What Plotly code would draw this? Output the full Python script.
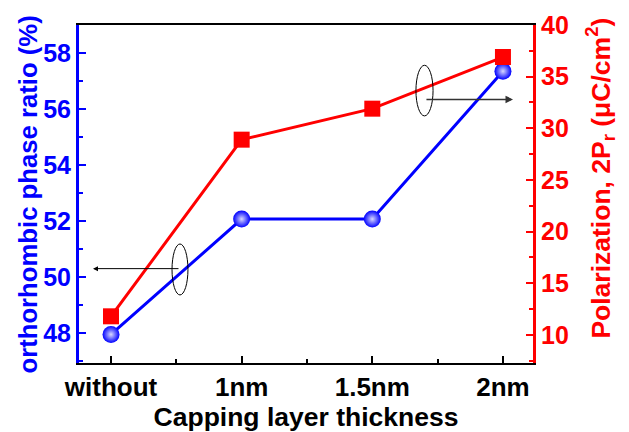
import plotly.graph_objects as go

# Capping layer thickness vs. orthorhombic phase ratio and remanent polarization
categories = ["without", "1nm", "1.5nm", "2nm"]
ortho_ratio = [47.95, 52.07, 52.07, 57.35]      # %
polarization = [11.8, 28.9, 31.9, 36.9]         # 2Pr, uC/cm^2

x_idx = list(range(len(categories)))

FONT = "Liberation Sans, Arial, sans-serif"
BLUE = "#0000FF"
RED = "#FF0000"

fig = go.Figure()

fig.add_trace(go.Scatter(
    x=x_idx, y=ortho_ratio, mode="lines+markers",
    line=dict(color=BLUE, width=3),
    marker=dict(symbol="circle", size=17, color=BLUE,
                gradient=dict(type="radial", color="#D8D8FF"),
                line=dict(width=0)),
    yaxis="y", showlegend=False,
))

fig.add_trace(go.Scatter(
    x=x_idx, y=polarization, mode="lines+markers",
    line=dict(color=RED, width=3),
    marker=dict(symbol="square", size=16, color=RED, line=dict(width=0)),
    yaxis="y2", showlegend=False,
))

# Ellipses marking which curve belongs to which axis
fig.add_shape(type="circle", xref="x", yref="y",
              x0=0.467, x1=0.589, y0=49.36, y1=51.18,
              line=dict(color="black", width=1))
fig.add_shape(type="circle", xref="x", yref="y2",
              x0=2.334, x1=2.465, y0=31.2, y1=36.1,
              line=dict(color="black", width=1))

# Arrows pointing to the corresponding axes
fig.add_annotation(x=-0.138, y=50.3, ax=0.528, ay=50.3, xref="x", yref="y",
                   axref="x", ayref="y", text="", showarrow=True,
                   arrowhead=2, arrowsize=1, arrowwidth=1, arrowcolor="black")
fig.add_annotation(x=3.077, y=32.8, ax=2.403, ay=32.8, xref="x", yref="y2",
                   axref="x", ayref="y2", text="", showarrow=True,
                   arrowhead=2, arrowsize=1, arrowwidth=1.5, arrowcolor="#333333")

# Vertical axis titles
fig.add_annotation(text="<b>orthorhombic phase ratio (%)</b>",
                   xref="paper", yref="paper", x=-0.1134, y=0.497,
                   xanchor="center", yanchor="middle", textangle=-90,
                   showarrow=False,
                   font=dict(family=FONT, size=25.7, color=BLUE))
fig.add_annotation(text="<b>Polarization, 2P<sub>r</sub> (μC/cm<sup>2</sup>)</b>",
                   xref="paper", yref="paper", x=1.1487, y=0.547,
                   xanchor="center", yanchor="middle", textangle=-90,
                   showarrow=False,
                   font=dict(family=FONT, size=26.5, color=RED))

fig.update_layout(
    width=629, height=432,
    margin=dict(l=79, r=96, t=25, b=69, autoexpand=False),
    paper_bgcolor="white", plot_bgcolor="white",
    font=dict(family=FONT, size=24, color="black"),
    xaxis=dict(
        range=[-0.245, 3.23], automargin=False,
        tickvals=x_idx, ticktext=[f"<b>{c}</b>" for c in categories],
        ticks="inside", ticklen=7, tickwidth=2, tickcolor="black",
        minor=dict(dtick=0.5, tick0=0, ticks="inside", ticklen=4,
                   tickwidth=2, tickcolor="black"),
        showline=True, linecolor="black", linewidth=2, mirror=True,
        showgrid=False, zeroline=False,
        tickfont=dict(family=FONT, size=26, color="black"),
        title=dict(text="<b>Capping layer thickness</b>",
                   font=dict(family=FONT, size=26.5, color="black"),
                   standoff=6),
    ),
    yaxis=dict(
        range=[46.93, 59.0], automargin=False,
        tickvals=[48, 50, 52, 54, 56, 58],
        ticktext=[f"<b>{v}</b>" for v in [48, 50, 52, 54, 56, 58]],
        ticks="inside", ticklen=7, tickwidth=2, tickcolor=BLUE,
        minor=dict(dtick=1, tick0=0, ticks="inside", ticklen=4,
                   tickwidth=2, tickcolor=BLUE),
        showline=True, linecolor=BLUE, linewidth=3,
        showgrid=False, zeroline=False,
        tickfont=dict(family=FONT, size=25, color=BLUE),
    ),
    yaxis2=dict(
        overlaying="y", side="right", anchor="x", automargin=False,
        range=[7.28, 40.0],
        tickvals=[10, 15, 20, 25, 30, 35, 40],
        ticktext=[f"<b>{v}</b>" for v in [10, 15, 20, 25, 30, 35, 40]],
        ticks="inside", ticklen=7, tickwidth=2, tickcolor=RED,
        minor=dict(dtick=2.5, tick0=0, ticks="inside", ticklen=4,
                   tickwidth=2, tickcolor=RED),
        showline=True, linecolor=RED, linewidth=3,
        showgrid=False, zeroline=False,
        tickfont=dict(family=FONT, size=25, color=RED),
    ),
)

fig.write_html("out.html")
